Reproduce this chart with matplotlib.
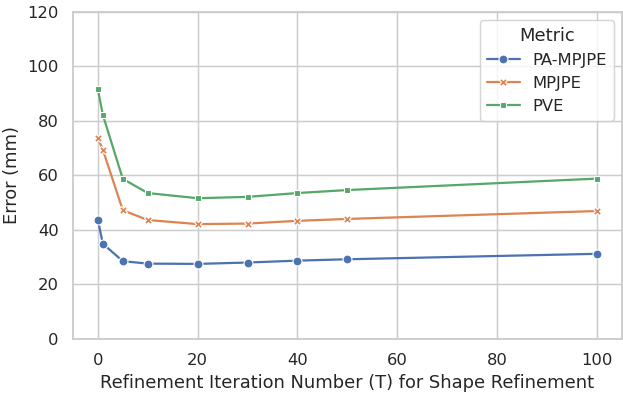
import matplotlib
matplotlib.use("Agg")
import matplotlib.pyplot as plt
import pandas as pd
import seaborn as sns

# refinement iterations and errors per metric
iterations = [0, 1, 5, 10, 20, 30, 40, 50, 100]
pa_mpjpe = [43.7, 34.9, 28.5, 27.6, 27.5, 28.0, 28.7, 29.2, 31.2]
mpjpe = [73.8, 69.4, 47.2, 43.6, 42.1, 42.3, 43.3, 44.0, 46.9]
pve = [91.7, 82.2, 58.7, 53.5, 51.6, 52.1, 53.5, 54.6, 58.8]
metrics = ["PA-MPJPE", "MPJPE", "PVE"]

rows = []
for name, vals in zip(metrics, [pa_mpjpe, mpjpe, pve]):
    for t, v in zip(iterations, vals):
        rows.append({"T": t, "Error": v, "Metric": name})
df = pd.DataFrame(rows)

sns.set_theme(style="whitegrid")

dpi = 107
fig, ax = plt.subplots(figsize=(623 / dpi, 394 / dpi), dpi=dpi)
sns.lineplot(data=df, x="T", y="Error", hue="Metric", style="Metric",
             markers=True, dashes=False, ax=ax)

ax.set_ylim(0, 120)
ax.set_xlabel("Refinement Iteration Number (T) for Shape Refinement")
ax.set_ylabel("Error (mm)")

fig.subplots_adjust(left=0.117, right=0.998, top=0.97, bottom=0.14)
fig.savefig("out.png", dpi=dpi)
